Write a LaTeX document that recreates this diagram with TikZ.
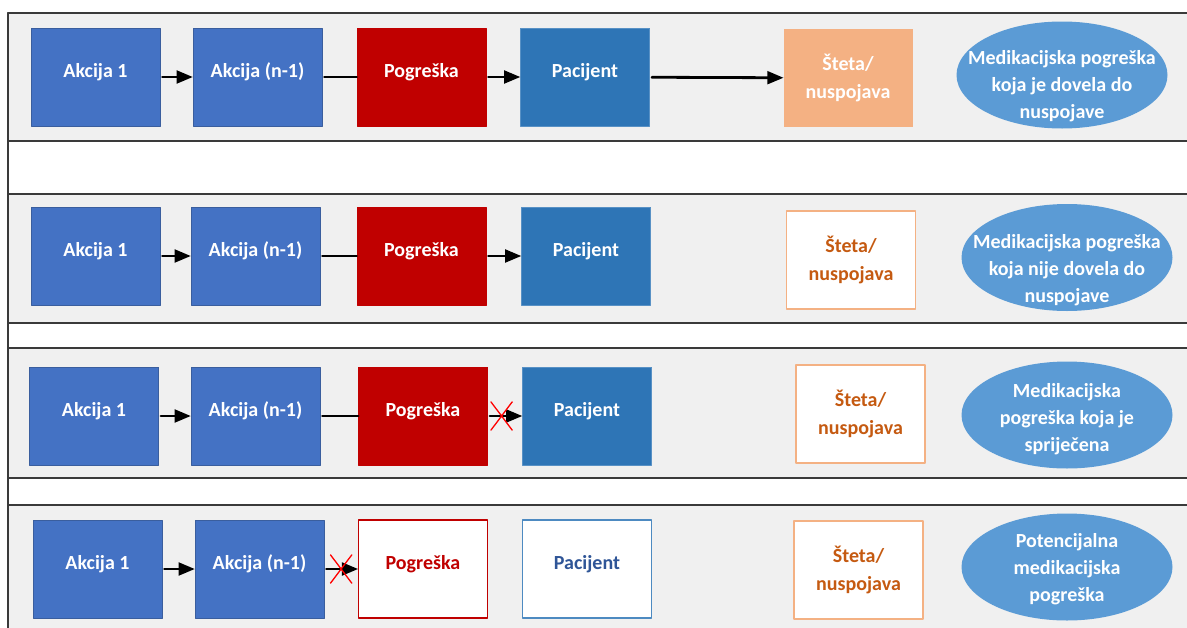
\documentclass[tikz,border=0pt]{standalone}
\usepackage{fontspec}
\setmainfont{Carlito}
\usetikzlibrary{arrows,shapes.geometric,shapes.misc,calc}

\definecolor{akcijablue}{HTML}{4472C4}
\definecolor{akcijaedge}{HTML}{3A5E9E}
\definecolor{pogreskared}{HTML}{C00000}
\definecolor{pacijentblue}{HTML}{2E75B6}
\definecolor{pacijenttext}{HTML}{2F5597}
\definecolor{stetaorange}{HTML}{F4B183}
\definecolor{stetatext}{HTML}{C55A11}
\definecolor{ishodblue}{HTML}{5B9BD5}
\definecolor{bandgray}{HTML}{F0F0F0}
\definecolor{framegray}{HTML}{3A3A3A}

\tikzset{
  korak/.style={rectangle, minimum width=129pt, minimum height=98pt, inner sep=0pt,
    text height=10pt, text depth=10pt, font=\fontsize{20}{27}\selectfont\bfseries, line width=0.8pt},
  akcija/.style={korak, fill=akcijablue, draw=akcijaedge, text=white},
  pogreska/.style={korak, fill=pogreskared, draw=pogreskared, text=white},
  pogreskaprazna/.style={korak, fill=white, draw=pogreskared, line width=1.2pt, text=pogreskared},
  pacijent/.style={korak, fill=pacijentblue, draw=pacijentblue!80!white, text=white},
  pacijentprazan/.style={korak, fill=white, draw=pacijentblue!85!white, line width=1.2pt, text=pacijenttext},
  steta/.style={rectangle, minimum width=129pt, minimum height=98pt, inner sep=0pt, align=center,
    font=\fontsize{20}{28}\selectfont\bfseries, fill=stetaorange, text=white},
  stetaprazna/.style={steta, fill=white, draw=stetaorange, line width=1.2pt, text=stetatext},
  ishod/.style={ellipse, minimum width=211pt, minimum height=107pt, inner sep=0pt, fill=ishodblue},
  ishodtekst/.style={align=center, text=white, font=\fontsize{20}{27}\selectfont\bfseries, inner sep=0pt},
  veza/.style={line width=2.8pt, shorten <=2pt},
  krizic/.style={cross out, draw=red, line width=1.3pt, minimum width=20pt, minimum height=27pt, inner sep=0pt},
  traka/.style={fill=bandgray, draw=framegray, line width=1.4pt}
}

\begin{document}
\begin{tikzpicture}[line cap=round,line join=round,>=triangle 45,x=1pt,y=-1pt]
    \useasboundingbox (0,0) rectangle (1187,627);
    \clip (0,0) rectangle (1187,627);
    \fill[white] (0,0) rectangle (1187,627);
    % pozadinske trake
    \foreach \ya/\yb in {13/141,194/323,348/478,505/640}
    \draw[traka] (8,\ya) rectangle (1200,\yb);
    \draw[framegray,line width=1.4pt] (8,13) -- (8,640);

    % prvi red: pogreska je dovela do nuspojave
    \node[akcija] (a1) at (95.5,77) {Akcija 1};
    \node[akcija] (n1) at (257.5,77) {Akcija (n-1)};
    \node[pogreska] (p1) at (421.5,77) {Pogreška};
    \node[pacijent] (c1) at (585,77) {Pacijent};
    \node[steta] (s1) at (848,78) {Šteta/\\nuspojava};
    \node[ishod] (e1) at (1062,75) {};
    \node[ishodtekst] (t1) at (1062,86) {Medikacijska pogreška\\koja je dovela do\\nuspojave};
    \draw[veza,->] (a1) -- (n1);
    \draw[veza] (n1) -- (p1);
    \draw[veza,->] (p1) -- (c1);
    \draw[veza,->] (c1) -- (s1);

    % drugi red: pogreska nije dovela do nuspojave
    \node[akcija] (a2) at (95.5,256) {Akcija 1};
    \node[akcija] (n2) at (255.5,256) {Akcija (n-1)};
    \node[pogreska] (p2) at (421.5,256) {Pogreška};
    \node[pacijent] (c2) at (586,256) {Pacijent};
    \node[stetaprazna] (s2) at (851,260) {Šteta/\\nuspojava};
    \node[ishod] (e2) at (1067,257.5) {};
    \node[ishodtekst] (t2) at (1067,270) {Medikacijska pogreška\\koja nije dovela do\\nuspojave};
    \draw[veza,->] (a2) -- (n2);
    \draw[veza] (n2) -- (p2);
    \draw[veza,->] (p2) -- (c2);

    % treci red: sprijecena pogreska
    \node[akcija] (a3) at (94,416) {Akcija 1};
    \node[akcija] (n3) at (255.5,416) {Akcija (n-1)};
    \node[pogreska] (p3) at (423,416) {Pogreška};
    \node[pacijent] (c3) at (587,416) {Pacijent};
    \node[stetaprazna] (s3) at (860.5,414) {Šteta/\\nuspojava};
    \node[ishod] (e3) at (1067,415) {};
    \node[ishodtekst] (t3) at (1067,419) {Medikacijska\\pogreška koja je\\spriječena};
    \draw[veza,->] (a3) -- (n3);
    \draw[veza] (n3) -- (p3);
    \draw[veza,->] (p3) -- (c3);
    \node[krizic] (x3) at ($(p3.east)!0.4!(c3.west)$) {};

    % cetvrti red: potencijalna pogreska
    \node[akcija] (a4) at (97.5,569) {Akcija 1};
    \node[akcija] (n4) at (259.5,569) {Akcija (n-1)};
    \node[pogreskaprazna] (p4) at (423,569) {Pogreška};
    \node[pacijentprazan] (c4) at (587,569) {Pacijent};
    \node[stetaprazna] (s4) at (858.5,570) {Šteta/\\nuspojava};
    \node[ishod] (e4) at (1067,567) {};
    \node[ishodtekst] (t4) at (1067,569) {Potencijalna\\medikacijska\\pogreška};
    \draw[veza,->] (a4) -- (n4);
    \draw[veza,->] (n4) -- (p4);
    \node[krizic] (x4) at ($(n4.east)!0.5!(p4.west)$) {};
\end{tikzpicture}
\end{document}
